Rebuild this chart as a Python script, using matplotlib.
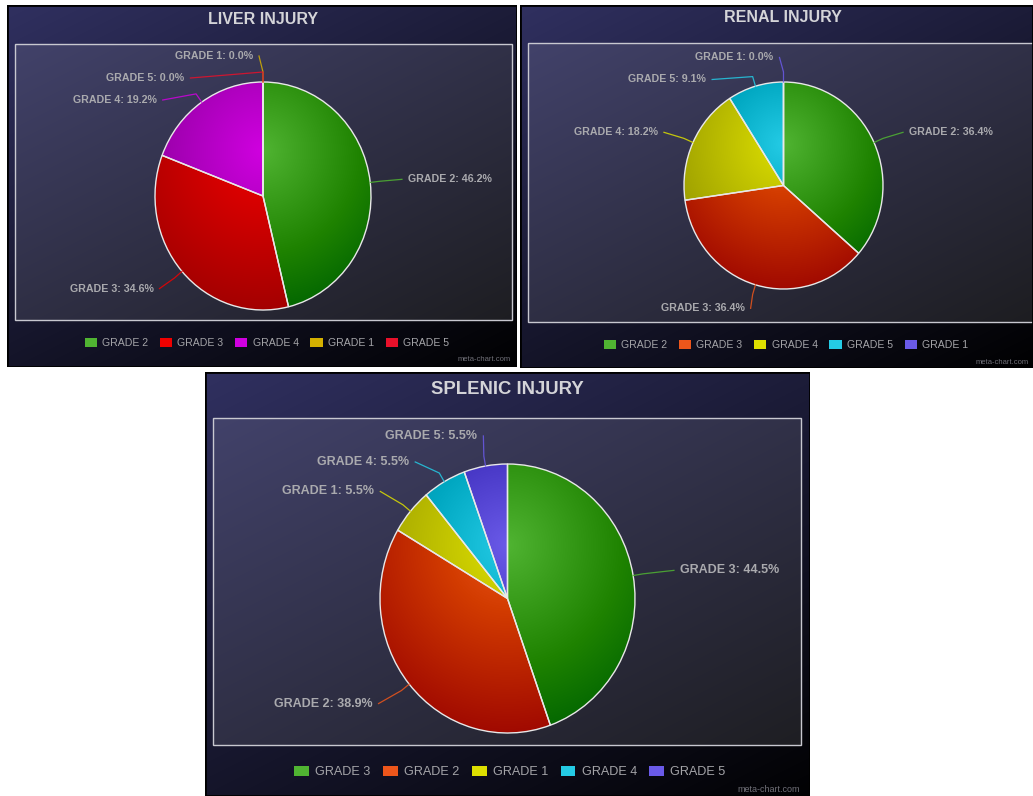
"""Three meta-chart style pie charts: liver, renal and splenic injury grades."""
import matplotlib
matplotlib.use('Agg')
import matplotlib.pyplot as plt
import matplotlib.patches as mpatches
import numpy as np

W, H = 1033, 796

# --- data ---
liver_grades = ['GRADE 2', 'GRADE 3', 'GRADE 4', 'GRADE 1', 'GRADE 5']
liver_pct = [46.2, 34.6, 19.2, 0.0, 0.0]
liver_colors = ['#50B432', '#F00000', '#D000E0', '#D4B000', '#E8102A']

renal_grades = ['GRADE 2', 'GRADE 3', 'GRADE 4', 'GRADE 5', 'GRADE 1']
renal_pct = [36.4, 36.4, 18.2, 9.1, 0.0]
renal_colors = ['#50B432', '#ED561B', '#DDDF00', '#24CBE5', '#6A5AE8']

splenic_grades = ['GRADE 3', 'GRADE 2', 'GRADE 1', 'GRADE 4', 'GRADE 5']
splenic_pct = [44.5, 38.9, 5.5, 5.5, 5.5]
splenic_colors = ['#50B432', '#ED561B', '#DDDF00', '#24CBE5', '#6A5AE8']

FONT = 'Liberation Sans'


def px_rect(x0, y0, x1, y1):
    return [x0 / W, 1 - y1 / H, (x1 - x0) / W, (y1 - y0) / H]


def hex_rgb(c):
    c = c.lstrip('#')
    return np.array([int(c[i:i + 2], 16) for i in (0, 2, 4)]) / 255.0


def draw_panel(panel, box, scale):
    x0, y0, x1, y1 = panel
    w, h = x1 - x0, y1 - y0
    ax = fig.add_axes(px_rect(*panel))
    ax.set_axis_off()
    X, Y = np.meshgrid(np.arange(w) / scale, np.arange(h) / scale)
    t = np.clip((X * 250 + Y * 500) / 312500.0, 0, 1)
    img = (1 - t)[..., None] * np.array([48, 48, 96]) / 255.0
    bx0, by0, bx1, by1 = box
    inside = (X * scale >= bx0 - x0) & (X * scale <= bx1 - x0) & \
             (Y * scale >= by0 - y0) & (Y * scale <= by1 - y0)
    img[inside] = img[inside] * 0.9 + 0.1
    ax.imshow(img, extent=(0, w, h, 0), aspect='auto', interpolation='bilinear')
    ax.add_patch(mpatches.Rectangle((bx0 - x0, by0 - y0), bx1 - bx0, by1 - by0,
                                    fill=False, edgecolor='#c8c8d0', linewidth=1.0))
    ax.add_patch(mpatches.Rectangle((0, 0), w, h, fill=False, edgecolor='black', linewidth=2))
    ax.set_xlim(0, w)
    ax.set_ylim(h, 0)


def draw_pie(pie_box, grades, pct, colors, lab_rx, lab_ry, spacing, fs):
    x0, y0, x1, y1 = pie_box
    rx, ry = (x1 - x0) / 2.0, (y1 - y0) / 2.0
    ax = fig.add_axes(px_rect(*pie_box))
    ax.set_axis_off()
    wedges, _ = ax.pie(pct, colors=colors, startangle=90, counterclock=False,
                       wedgeprops=dict(edgecolor='#e8e8e8', linewidth=1.0))
    ax.set_aspect('auto')
    ax.set_xlim(-1, 1)
    ax.set_ylim(-1, 1)

    # radial shading like highcharts (lighter spot above centre)
    gx, gy = np.meshgrid(np.linspace(-1, 1, 220), np.linspace(1, -1, 220))
    t = np.clip(np.sqrt(gx ** 2 + (gy - 0.4) ** 2) / 1.4, 0, 1)
    for wdg, c in zip(wedges, colors):
        img = np.clip(hex_rgb(c)[None, None, :] - 0.3 * t[..., None], 0, 1)
        im = ax.imshow(img, extent=(-1, 1, -1, 1), aspect='auto', zorder=2,
                       interpolation='bilinear')
        im.set_clip_path(wdg)
        wdg.set_facecolor('none')
        wdg.set_zorder(3)

    # label positions from the slice mid-angles (clockwise from top)
    fr = np.array(pct) / np.sum(pct)
    ang = np.radians(360 * (np.cumsum(fr) - fr / 2))
    xs = lab_rx * np.sin(ang)
    ys = lab_ry * np.cos(ang)
    left = ang >= np.pi
    for side in (True, False):
        idx = [i for i in np.argsort(-ys) if left[i] == side and ys[i] > 0]
        prev = None
        for i in idx:
            if prev is not None and ys[i] > prev - spacing:
                ys[i] = prev - spacing
                xx = lab_rx * np.sqrt(max(0.0, 1 - (ys[i] / lab_ry) ** 2))
                xs[i] = -xx if side else xx
            prev = ys[i]

    for i, (g, p, c) in enumerate(zip(grades, pct, colors)):
        s = -1 if left[i] else 1
        tx = s * max(abs(xs[i]), 10)
        ex, ey = rx * np.sin(ang[i]), ry * np.cos(ang[i])
        mx, my = (rx + 10) * np.sin(ang[i]), (ry + 10) * np.cos(ang[i])
        lx = tx - s * 6
        ax.plot([ex / rx, mx / rx, lx / rx], [ey / ry, my / ry, ys[i] / ry],
                color=c, lw=0.9, alpha=0.85, clip_on=False, zorder=4)
        ax.text(tx / rx, ys[i] / ry, f'{g}: {p:.1f}%', ha='right' if left[i] else 'left',
                va='center', fontsize=fs, color='#aaaaae', fontweight='bold',
                family=FONT, clip_on=False, zorder=5)


def draw_legend(grades, colors, cx, cy, fs, colsp):
    handles = [mpatches.Patch(facecolor=c, edgecolor='none') for c in colors]
    fig.legend(handles, grades, loc='center', bbox_to_anchor=(cx / W, 1 - cy / H),
               ncol=len(grades), frameon=False, labelcolor='#a4a4a8',
               prop={'family': FONT, 'size': fs}, handlelength=1.15, handleheight=0.9,
               handletextpad=0.5, columnspacing=colsp, borderaxespad=0)


fig = plt.figure(figsize=(W / 100, H / 100), dpi=100)
fig.patch.set_facecolor('white')

# --- 1. Liver ---
draw_panel((7, 5, 517, 367), (15, 44, 512, 320), 1.0)
draw_pie((155, 82, 371, 310), liver_grades, liver_pct, liver_colors, 146, 140, 22, 7.7)
fig.text(263 / W, 1 - 19 / H, 'LIVER INJURY', ha='center', va='center', fontsize=11.5,
         fontweight='bold', color='#d4d4d8', family=FONT)
draw_legend(liver_grades, liver_colors, 267, 343, 7.6, 1.1)
fig.text(511 / W, 1 - 360 / H, 'meta-chart.com', ha='right', va='center', fontsize=5.5,
         color='#707078', family=FONT)

# --- 2. Renal ---
draw_panel((520, 5, 1033, 368), (528, 43, 1040, 322), 1.0)
draw_pie((684, 82, 883, 289), renal_grades, renal_pct, renal_colors, 138, 128, 22, 7.7)
fig.text(783 / W, 1 - 18 / H, 'RENAL INJURY', ha='center', va='center', fontsize=11.5,
         fontweight='bold', color='#d4d4d8', family=FONT)
draw_legend(renal_grades, renal_colors, 786, 345, 7.6, 1.1)
fig.text(976 / W, 1 - 362 / H, 'meta-chart.com', ha='left', va='center', fontsize=5.5,
         color='#707078', family=FONT)

# --- 3. Splenic ---
draw_panel((205, 372, 810, 796), (213, 418, 801, 745), 1.2)
draw_pie((380, 464, 635, 733), splenic_grades, splenic_pct, splenic_colors, 175, 165, 26, 9.0)
fig.text(507 / W, 1 - 389 / H, 'SPLENIC INJURY', ha='center', va='center', fontsize=13.3,
         fontweight='bold', color='#d4d4d8', family=FONT)
draw_legend(splenic_grades, splenic_colors, 510, 772, 9.1, 1.0)
fig.text(800 / W, 1 - 790 / H, 'meta-chart.com', ha='right', va='center', fontsize=6.5,
         color='#707078', family=FONT)

plt.savefig('out.png', dpi=100, facecolor='white')
plt.close()
print("Saved: out.png")
